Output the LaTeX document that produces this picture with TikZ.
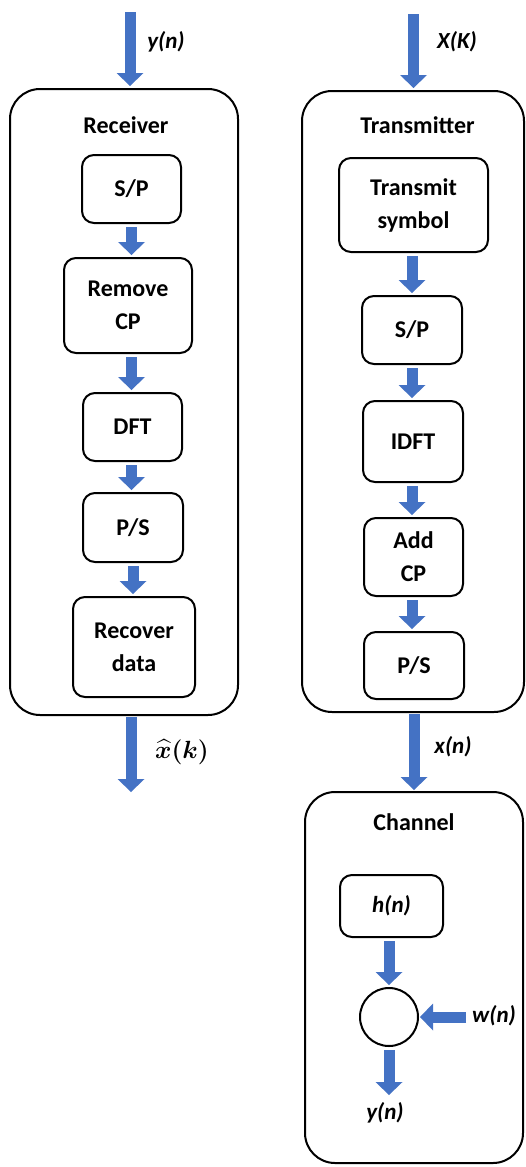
\documentclass[tikz,border=0pt]{standalone}
\usepackage[no-math]{fontspec}
\setmainfont{Carlito}
\usepackage{amsmath}
\usetikzlibrary{arrows.meta}
\definecolor{ablue}{HTML}{4472C4}
\begin{document}
\begin{tikzpicture}[x=1pt,y=-1pt,
  font=\fontsize{24}{33}\selectfont\bfseries,
  box/.style={draw, line width=2pt, rounded corners=12pt, align=center, inner sep=0pt},
  big/.style={draw, line width=2pt, rounded corners=30pt, inner sep=0pt},
  fat/.style={ablue, line width=11pt, -{Triangle[width=27pt,length=13pt,line width=0pt]}, shorten <=3pt, shorten >=2pt},
  lab/.style={font=\fontsize{23}{27}\selectfont\bfseries\itshape, inner sep=0pt}]
\useasboundingbox (0,0) rectangle (525,1167);
% ---------- Receiver ----------
\node[big, minimum width=228pt, minimum height=626pt] (recv) at (124,402) {};
\node (rtitle) at (126,125) {Receiver};
\node[box, minimum width=99pt, minimum height=68pt] (sp1) at (131.5,189) {S/P};
\node[box, minimum width=128pt, minimum height=95pt] (rcp) at (128,305.5) {Remove\\CP};
\node[box, minimum width=99pt, minimum height=68pt] (dft) at (132.5,427) {DFT};
\node[box, minimum width=100pt, minimum height=69pt] (ps1) at (133,527.5) {P/S};
\node[box, minimum width=122pt, minimum height=100pt] (rec) at (134,647) {Recover\\data};
\coordinate (yin) at (130,12);
\coordinate (xout) at (131,792);
\node[lab] (yinl) at (166,42) {y(n)};
\node[inner sep=0pt, font=\fontsize{24}{28}\selectfont] (xhat) at (182,752) {$\boldsymbol{\widehat{x}(k)}$};
\draw[fat, shorten <=0pt] (yin) -- (yin |- recv.north);
\draw[fat] (sp1.south) -- (sp1.south |- rcp.north);
\draw[fat] (sp1.south |- rcp.south) -- (sp1.south |- dft.north);
\draw[fat] (sp1.south |- dft.south) -- (sp1.south |- ps1.north);
\draw[fat] (ps1.south) -- (ps1.south |- rec.north);
\draw[fat, shorten <=1pt, shorten >=0pt] (xout |- recv.south) -- (xout);
% ---------- Transmitter ----------
\node[big, minimum width=222pt, minimum height=621pt] (tx) at (413,401.5) {};
\node (ttitle) at (417.5,125) {Transmitter};
\node[box, minimum width=149pt, minimum height=94pt] (ts) at (413.5,205) {Transmit\\symbol};
\node[box, minimum width=100pt, minimum height=68pt] (sp2) at (412,330) {S/P};
\node[box, minimum width=100pt, minimum height=81pt] (idft) at (413,441.5) {IDFT};
\node[box, minimum width=99pt, minimum height=78pt] (acp) at (413.5,557) {Add\\CP};
\node[box, minimum width=100pt, minimum height=67pt] (ps2) at (414,665.5) {P/S};
\coordinate (xkin) at (413.5,14);
\node[lab] (xkl) at (457,42) {X(K)};
\draw[fat, shorten <=0pt] (xkin) -- (xkin |- tx.north);
\draw[fat] (ts.south -| sp2.south) -- (sp2.north);
\draw[fat] (sp2.south) -- (sp2.south |- idft.north);
\draw[fat] (sp2.south |- idft.south) -- (sp2.south |- acp.north);
\draw[fat] (sp2.south |- acp.south) -- (sp2.south |- ps2.north);
% ---------- Channel ----------
\node[big, minimum width=218pt, minimum height=371pt] (ch) at (414,977.5) {};
\node (ctitle) at (414,822) {Channel};
\node[lab] (xnl) at (453,747) {x(n)};
\draw[fat, shorten <=1pt, shorten >=1pt] (ps2.south |- tx.south) -- (ps2.south |- ch.north);
\node[box, minimum width=103pt, minimum height=62pt, font=\fontsize{23}{27}\selectfont\bfseries\itshape] (hn) at (391.5,906) {h(n)};
\node[draw, circle, line width=2pt, minimum size=58pt, inner sep=0pt] (sum) at (389,1017) {};
\coordinate (win) at (466,1017);
\node[lab] (wnl) at (494,1016) {w(n)};
\coordinate (yout) at (389,1095);
\node[lab] (youtl) at (385,1113) {y(n)};
\draw[fat] (sum.north |- hn.south) -- (sum.north);
\draw[fat, shorten <=0pt, shorten >=1pt] (win) -- (sum.east);
\draw[fat, shorten >=0pt] (sum.south) -- (yout);
\end{tikzpicture}
\end{document}
